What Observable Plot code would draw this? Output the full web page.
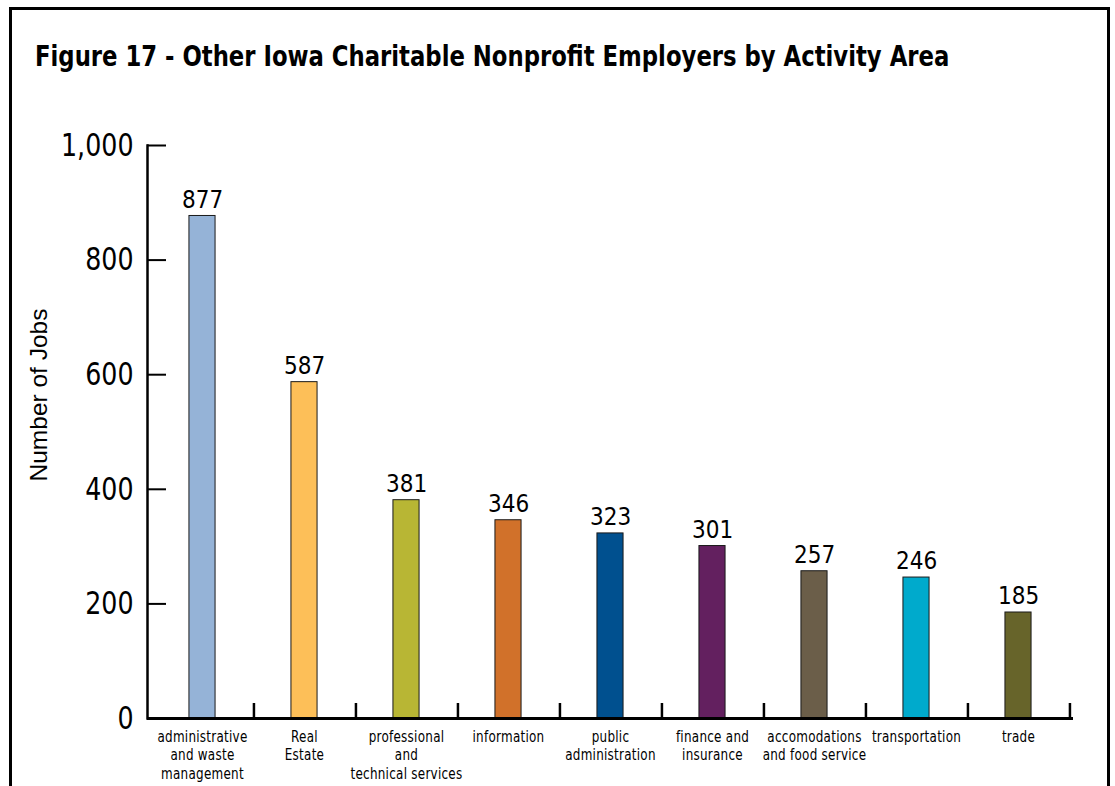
<!DOCTYPE html>
<html><head><meta charset="utf-8">
<script src="https://cdn.jsdelivr.net/npm/d3@7"></script>
<script src="https://cdn.jsdelivr.net/npm/@observablehq/plot@0.6"></script>
<style>
html,body{margin:0;padding:0;background:#fff;width:1115px;height:786px;overflow:hidden;}
#frame{position:absolute;left:9px;top:7px;width:1101px;height:900px;border:3px solid #000;box-sizing:border-box;}
#title{position:absolute;left:35px;top:42px;margin:0;font-family:"DejaVu Sans Condensed","Liberation Sans",sans-serif;font-weight:bold;font-size:27.5px;line-height:28px;color:#000;white-space:nowrap;transform:scaleX(0.92);transform-origin:0 0;}
#chart{position:absolute;left:0;top:100px;}
#chart g[aria-label="x-axis tick label"] text{letter-spacing:0.3px;}
</style></head>
<body>
<div id="frame"></div>
<h1 id="title">Figure 17 - Other Iowa Charitable Nonprofit Employers by Activity Area</h1>
<div id="chart"></div>
<script>
const categories = ["administrative and waste management","Real Estate","professional and technical services","information","public administration","finance and insurance","accomodations and food service","transportation","trade"];
const categoryLabels = ["administrative\nand waste\nmanagement","Real\nEstate","professional\nand\ntechnical services","information","public\nadministration","finance and\ninsurance","accomodations\nand food service","transportation","trade"];
const jobs = [877,587,381,346,323,301,257,246,185];
const colors = ["#95b3d7","#fdbf58","#b8b634","#d1712a","#00508f","#63205f","#6b5e49","#00aacc","#67642a"];
const yTicks = [0,200,400,600,800,1000];
const yTitle = "Number of Jobs";

const data = categories.map((c,i)=>({category:c, jobs:jobs[i]}));
const labelOf = new Map(categories.map((c,i)=>[c,categoryLabels[i]]));

const W = 1115, H = 686;
const ml = 147, mr = 42, mt = 45, mb = 68;
const plotW = W - ml - mr, plotH = H - mt - mb;
const step = plotW / categories.length;
const barW = 27;
const inset = (step - barW) / 2;
const narrow = "DejaVu Sans Condensed, Liberation Sans, sans-serif";

const chart = Plot.plot({
  width: W, height: H,
  marginLeft: ml, marginRight: mr, marginTop: mt, marginBottom: mb,
  style: {fontFamily: narrow, background: "transparent", color: "#000", overflow: "visible"},
  x: {type: "band", domain: categories, padding: 0, label: null},
  y: {domain: [0, 1000], label: null},
  color: {domain: categories, range: colors},
  marks: [
    Plot.barY(data, {x: "category", y: "jobs", fill: "category", stroke: "#1a1a1a", strokeWidth: 1, insetLeft: inset, insetRight: inset}),
    Plot.text(data, {x: "category", y: "jobs", text: d => String(d.jobs), dy: -16, fontSize: 24, fill: "#000", ariaLabel: "value label"}),
    Plot.axisY(yTicks, {tickSize: 0, tickPadding: 14, fontSize: 32, tickFormat: d3.format(","), label: null}),
    Plot.tickY(yTicks, {y: d => d, insetRight: plotW - 19, stroke: "#000", strokeWidth: 2}),
    Plot.tickX(categories, {x: d => d, dx: step / 2, insetTop: plotH - 15, stroke: "#000", strokeWidth: 2.5}),
    Plot.axisX({tickSize: 0, tickPadding: 11, fontSize: 15.5, lineHeight: 1.17, tickFormat: d => labelOf.get(d), label: null}),
    Plot.frame({anchor: "left", stroke: "#000", strokeWidth: 2.5}),
    Plot.ruleY([0], {stroke: "#000", strokeWidth: 3}),
    Plot.text([yTitle], {frameAnchor: "left", textAnchor: "middle", dx: 39 - ml, dy: -37, rotate: -90, fontSize: 24.5, fontFamily: "Liberation Sans, Arial, sans-serif", fill: "#000"})
  ]
});
document.getElementById("chart").appendChild(chart);

// narrow the condensed numerals toward the reference's tighter face
function condense(selector, factor) {
  chart.querySelectorAll(selector).forEach(t => {
    const len = t.getComputedTextLength();
    t.setAttribute("textLength", (len * factor).toFixed(1));
    t.setAttribute("lengthAdjust", "spacingAndGlyphs");
  });
}
condense('g[aria-label="y-axis tick label"] text', 0.88);
condense('g[aria-label="value label"] text', 0.86);
// horizontally squeeze category labels around their anchor
chart.querySelectorAll('g[aria-label="x-axis tick label"] text').forEach(t => {
  const tr = t.getAttribute("transform") || "";
  t.setAttribute("transform", tr + " scale(0.86,1)");
});
</script>
</body></html>
